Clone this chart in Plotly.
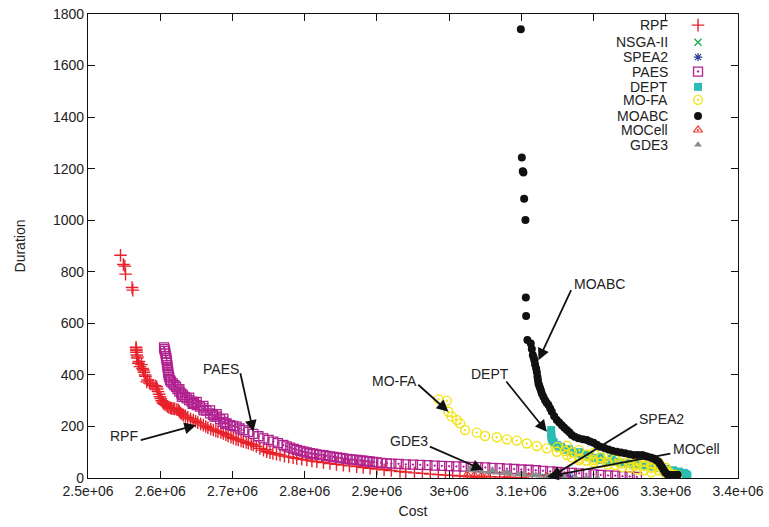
import plotly.graph_objects as go

# ---------------- data (cost in units of 1e6, duration) ----------------
rpf_cost = [2.545, 2.549, 2.551, 2.552, 2.561, 2.562,
            2.5665, 2.567, 2.5675, 2.568, 2.5697, 2.572, 2.5766, 2.579, 2.5813, 2.585, 2.59, 2.5951,
            2.597, 2.5997, 2.602, 2.6043, 2.608, 2.612, 2.6159, 2.62, 2.6251, 2.628, 2.632, 2.638,
            2.6458, 2.652, 2.6597, 2.666, 2.6735, 2.68, 2.6874, 2.694, 2.7012, 2.708, 2.7151, 2.722,
            2.7289, 2.738, 2.7474, 2.7474, 2.756, 2.7659, 2.778, 2.789, 2.803, 2.8168, 2.835, 2.8536,
            2.872, 2.8906, 2.91, 2.932, 2.952, 2.974, 2.995, 3.015, 3.035, 3.057, 3.07, 3.084,
            2.5668, 2.5672, 2.5685, 2.5705, 2.574, 2.5755, 2.5775, 2.5795, 2.5825, 2.587, 2.593,
            2.596, 2.5985, 2.601, 2.6035, 2.606, 2.61, 2.614, 2.618, 2.623, 2.6265, 2.63, 2.635,
            2.642, 2.649, 2.656, 2.663, 2.67, 2.677, 2.684, 2.691, 2.698, 2.705, 2.712, 2.719,
            2.726, 2.733, 2.743, 2.752, 2.761, 2.772, 2.784, 2.796, 2.81, 2.826, 2.844, 2.862,
            2.881, 2.9, 2.92, 2.94, 2.963, 2.985, 3.005, 3.025, 3.045, 3.1]
rpf_dur = [864, 828, 822, 791, 739, 729,
           507, 495, 477, 465, 445, 432, 419, 400, 373, 368, 360, 354,
           335, 315, 300, 290, 282, 275, 270, 268, 264, 252, 244, 235,
           225, 215, 205, 195, 186, 180, 173, 163, 154, 148, 141, 135,
           128, 115, 102, 110, 95, 89, 82, 76, 70, 63, 56, 50,
           44, 38, 32, 25, 20, 15, 11, 8, 6, 5, 4, 3,
           500, 488, 470, 452, 440, 425, 410, 395, 380, 365, 358,
           345, 325, 308, 295, 286, 278, 272, 269, 266, 258, 248, 240,
           230, 220, 210, 200, 190, 183, 177, 168, 158, 151, 144, 138,
           131, 122, 108, 98, 92, 85, 79, 73, 66, 60, 53, 47,
           41, 35, 29, 23, 18, 13, 10, 7, 6, 2]

nsga_cost = [3.133, 3.136, 3.139, 3.142]
nsga_dur = [3, 2.5, 2, 2]

spea_cost = [3.145, 3.150, 3.156, 3.162, 3.168]
spea_dur = [2, 2, 1.5, 1.5, 1]

paes_cost = [2.6053, 2.6066, 2.608, 2.609, 2.6098, 2.6108, 2.6117, 2.6136, 2.6173, 2.6219, 2.6265,
             2.6312, 2.6367, 2.6436, 2.6505, 2.6597, 2.669, 2.6782, 2.6874, 2.6967, 2.7059, 2.7151,
             2.7289, 2.7428, 2.7566, 2.7705, 2.78, 2.789, 2.7985, 2.8075, 2.8165, 2.8259, 2.835,
             2.8444, 2.853, 2.8629, 2.872, 2.8813, 2.89, 2.8998, 2.9137, 2.93, 2.95, 2.97, 2.99,
             3.01, 3.03, 3.05, 3.07, 3.09, 3.11, 3.13, 3.15, 3.17, 3.19, 3.21, 3.23, 3.25, 3.26,
             2.6058, 2.6073, 2.6085, 2.6094, 2.6103, 2.6112, 2.6125, 2.615, 2.6195, 2.624, 2.629,
             2.634, 2.64, 2.647, 2.655, 2.664, 2.673, 2.683, 2.692, 2.701, 2.71, 2.722, 2.736,
             2.75, 2.763, 2.775, 2.785, 2.794, 2.803, 2.812, 2.821, 2.83, 2.84, 2.849, 2.858,
             2.867, 2.877, 2.886, 2.895, 2.906, 2.92, 2.94, 2.96, 2.98, 3.0, 3.02, 3.04, 3.06,
             3.08, 3.1, 3.12, 3.14, 3.16, 3.18, 3.2, 3.22, 3.24,
             2.6265, 2.64, 2.6505, 2.6597, 2.669, 2.6782, 2.6874, 2.63, 2.645, 2.66, 2.675, 2.69]
paes_dur = [507, 493, 473, 457, 438, 419, 399, 380, 367, 354, 335,
            322, 309, 296, 283, 270, 251, 238, 218, 205, 199, 186,
            171, 154, 141, 128, 118, 109, 102, 96, 92, 89, 84,
            80, 76, 72, 70, 67, 64, 61, 57, 55, 52, 50, 47,
            45, 43, 41, 38, 35, 32, 28, 24, 20, 16, 12, 9, 6, 4,
            500, 483, 465, 447, 428, 409, 390, 374, 360, 345, 328,
            315, 302, 290, 277, 261, 245, 228, 212, 202, 192, 179, 162,
            148, 135, 123, 113, 105, 99, 94, 90, 86, 82, 78, 74,
            71, 68, 65, 62, 59, 56, 53, 51, 48, 46, 44, 42, 39,
            36, 33, 30, 26, 22, 18, 14, 10, 7,
            345, 312, 295, 280, 262, 248, 230, 315, 288, 262, 238, 210]

dept_cost = [3.1413, 3.1413, 3.1413, 3.142, 3.143, 3.145, 3.149, 3.155, 3.163, 3.17, 3.177, 3.184,
             3.191, 3.2, 3.209, 3.218, 3.228, 3.237, 3.246, 3.255, 3.265, 3.274, 3.283, 3.29,
             3.3, 3.31, 3.318, 3.325, 3.328, 3.33, 3.152, 3.166, 3.18, 3.195, 3.21, 3.225]
dept_dur = [186, 175, 165, 155, 145, 138, 128, 120, 110, 103, 96, 90,
            83, 77, 70, 66, 63, 60, 57, 53, 50, 47, 44, 40,
            35, 30, 25, 20, 15, 10, 122, 112, 100, 90, 82, 74]

mofa_cost = [2.9852, 2.9968, 2.999, 3.0037, 3.0106, 3.0152, 3.0221, 3.0383, 3.0498, 3.066, 3.0799,
             3.0937, 3.1076, 3.1214, 3.1353, 3.1491, 3.163, 3.1814, 3.1999, 3.2184, 3.2368, 3.2553,
             3.26, 3.27, 3.28, 3.29, 3.295, 3.3, 3.305, 3.31, 3.3152,
             3.15, 3.163, 3.18, 3.2, 3.22, 3.24, 3.255, 3.27, 3.28, 3.29, 3.3,
             3.18, 3.2, 3.22, 3.24, 3.26, 3.28, 3.3,
             3.16, 3.17, 3.19, 3.21, 3.23, 3.25, 3.26, 3.27, 3.28, 3.285, 3.29, 3.3, 3.305,
             3.17, 3.19, 3.21, 3.23, 3.25, 3.27]
mofa_dur = [305, 300, 257, 238, 225, 212, 186, 176, 163, 158, 150,
            145, 134, 124, 115, 102, 89, 76, 70, 63, 57, 47,
            70, 65, 55, 45, 35, 25, 18, 12, 12,
            120, 125, 108, 97, 92, 85, 83, 78, 72, 60, 40,
            70, 60, 52, 42, 32, 22, 15,
            105, 100, 90, 80, 72, 62, 55, 48, 40, 50, 30, 28, 22,
            80, 68, 60, 50, 40, 30]

moabc_cost = [3.0993, 3.1007, 3.102, 3.1029, 3.1039, 3.1057, 3.1062, 3.1066, 3.1084, 3.1131,
              3.1159, 3.1181, 3.1205, 3.1223, 3.1237, 3.126, 3.1284, 3.1329, 3.1375, 3.1422,
              3.1491, 3.1561, 3.163, 3.1699, 3.1791, 3.1907, 3.1999, 3.2091, 3.2206, 3.2322,
              3.2438, 3.2553, 3.2669, 3.2738, 3.283, 3.2899, 3.2946, 3.2992, 3.3061, 3.313,
              3.1145, 3.117, 3.119, 3.1215, 3.123, 3.1248, 3.1272, 3.1305, 3.135, 3.14, 3.1455,
              3.1525, 3.1595, 3.1665, 3.174, 3.185, 3.195, 3.2045, 3.215, 3.226, 3.238, 3.25,
              3.261, 3.27, 3.279, 3.2865, 3.292, 3.297, 3.302, 3.31, 3.3165]
moabc_dur = [1741, 1243, 1190, 1185, 1083, 1001, 700, 628, 535, 522,
             477, 457, 425, 393, 367, 348, 328, 302, 283, 257,
             225, 205, 186, 167, 154, 147, 137, 121, 111, 102,
             96, 89, 89, 83, 76, 63, 44, 21, 12, 12,
             500, 467, 440, 410, 380, 358, 338, 315, 292, 270, 240,
             215, 195, 177, 160, 150, 142, 129, 116, 106, 99, 92,
             89, 86, 80, 70, 54, 32, 15, 12, 13]

mocell_cost = [3.025, 3.035, 3.045, 3.052, 3.08, 3.11, 3.135]
mocell_dur = [12, 10, 8, 6, 6, 5, 5]

gde3_cost = [3.029, 3.035, 3.045, 3.055, 3.065, 3.075, 3.085, 3.095, 3.105, 3.115, 3.125,
             3.135, 3.145, 3.16, 3.175, 3.19, 3.205,
             3.03, 3.04, 3.06, 3.08, 3.1, 3.12, 3.14]
gde3_dur = [30, 28, 25, 22, 20, 18, 16, 14, 12, 10, 8, 6, 5, 4, 3, 2, 1.5,
            40, 36, 30, 24, 18, 13, 9]

x_tick_vals = [2.5, 2.6, 2.7, 2.8, 2.9, 3.0, 3.1, 3.2, 3.3, 3.4]
x_tick_text = ["2.5e+06", "2.6e+06", "2.7e+06", "2.8e+06", "2.9e+06",
               "3e+06", "3.1e+06", "3.2e+06", "3.3e+06", "3.4e+06"]
y_tick_vals = [0, 200, 400, 600, 800, 1000, 1200, 1400, 1600, 1800]

# annotation labels: text, text position, arrow tail, arrow tip (cost 1e6, duration)
ann_text = ["RPF", "PAES", "MO-FA", "DEPT", "MOABC", "SPEA2", "MOCell", "GDE3"]
ann_text_x = [2.5499, 2.6842, 2.9238, 3.0568, 3.2077, 3.2936, 3.342, 2.9446]
ann_text_y = [163, 422, 376, 403, 752, 229, 112, 143]
ann_tail_x = [2.571, 2.7105, 2.9552, 3.0775, 3.1699, 3.2622, 3.3084, 2.9713]
ann_tail_y = [145, 412, 367, 380, 735, 214, 96, 124]
ann_tip_x = [2.6496, 2.7289, 2.999, 3.1353, 3.1237, 3.140, 3.1353, 3.0475]
ann_tip_y = [205, 179, 257, 179, 457, 2, 5, 31]

# ---------------- styling ----------------
series = [
    ("RPF", rpf_cost, rpf_dur, dict(symbol="cross-thin", size=9, color="#e8202a",
                                    line=dict(color="#e8202a", width=1.4))),
    ("NSGA-II", nsga_cost, nsga_dur, dict(symbol="x-thin", size=7, color="#1aa64a",
                                          line=dict(color="#1aa64a", width=1.3))),
    ("SPEA2", spea_cost, spea_dur, dict(symbol="asterisk", size=7, color="#2a3b9a",
                                        line=dict(color="#2a3b9a", width=1.2))),
    ("PAES", paes_cost, paes_dur, dict(symbol="square-open-dot", size=9, color="#b0228f",
                                       line=dict(width=1.3))),
    ("DEPT", dept_cost, dept_dur, dict(symbol="square", size=8, color="#2bbcb3")),
    ("MO-FA", mofa_cost, mofa_dur, dict(symbol="circle-open-dot", size=9, color="#f2e31b",
                                        line=dict(width=1.4))),
    ("MOABC", moabc_cost, moabc_dur, dict(symbol="circle", size=8, color="#111111")),
    ("MOCell", mocell_cost, mocell_dur, dict(symbol="triangle-up-open-dot", size=8, color="#f0302a",
                                             line=dict(width=1.2))),
    ("GDE3", gde3_cost, gde3_dur, dict(symbol="triangle-up", size=7, color="#8c8c8c")),
]

fig = go.Figure()
for name, xs, ys, mk in series:
    fig.add_trace(go.Scatter(x=xs, y=ys, mode="markers", name=name, marker=mk,
                             showlegend=False, cliponaxis=True))

# custom gnuplot-style key: text right-aligned, symbol to its right
key_rows_y = [0.976, 0.939, 0.907, 0.876, 0.843, 0.815, 0.780, 0.750, 0.718]
for (name, xs, ys, mk), ky in zip(series, key_rows_y):
    fig.add_trace(go.Scatter(x=[0.9385], y=[ky], mode="markers", marker=mk, showlegend=False,
                             xaxis="x2", yaxis="y2", hoverinfo="skip"))
    fig.add_annotation(x=0.894, y=ky, xref="paper", yref="paper", text=name, showarrow=False,
                       xanchor="right", yanchor="middle", borderpad=0,
                       font=dict(size=14, color="#222222"))

for t, tx, ty, ax, ay, px, py in zip(ann_text, ann_text_x, ann_text_y, ann_tail_x, ann_tail_y,
                                     ann_tip_x, ann_tip_y):
    fig.add_annotation(x=px, y=py, ax=ax, ay=ay, xref="x", yref="y", axref="x", ayref="y",
                       text="", showarrow=True, arrowhead=2, arrowsize=1.3, arrowwidth=1.8,
                       arrowcolor="#111111", standoff=0, startstandoff=0)
    fig.add_annotation(x=tx, y=ty, xref="x", yref="y", text=t, showarrow=False,
                       font=dict(size=14, color="#222222"))

axis_common = dict(showline=True, linecolor="#111111", linewidth=1.2, mirror="ticks",
                   ticks="inside", ticklen=7, tickcolor="#111111", tickwidth=1,
                   showgrid=False, zeroline=False, automargin=False,
                   tickfont=dict(size=14, color="#222222"))
fig.update_layout(
    width=769, height=527,
    margin=dict(l=88, r=31, t=14, b=49),
    paper_bgcolor="white", plot_bgcolor="white",
    font=dict(family="Liberation Sans, Arial, sans-serif", size=14, color="#222222"),
    xaxis=dict(range=[2.5, 3.4], tickvals=x_tick_vals, ticktext=x_tick_text,
               title=dict(text="Cost", font=dict(size=14), standoff=8), **axis_common),
    yaxis=dict(range=[0, 1800], tickvals=y_tick_vals,
               title=dict(text="Duration", font=dict(size=14), standoff=24), **axis_common),
    xaxis2=dict(overlaying="x", range=[0, 1], visible=False),
    yaxis2=dict(overlaying="y", range=[0, 1], visible=False),
    showlegend=False,
)

fig.write_html("out.html", config={"displayModeBar": False},
               post_script="document.body.style.margin='0';")
